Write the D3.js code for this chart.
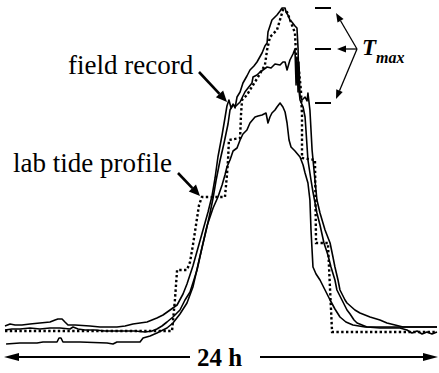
<!DOCTYPE html>
<html>
<head>
<meta charset="utf-8">
<script src="https://cdn.jsdelivr.net/npm/d3@7"></script>
<style>
  body { margin: 0; background: #fff; }
  svg { display: block; }
</style>
</head>
<body>
<div id="chart"></div>
<script>
// time in hours, temperature (arbitrary deg C)
const fieldA = [
  [0,11.9],[0.28,12.1],[0.56,12.0],[0.94,12.0],[1.39,12.1],[1.94,12.2],[2.5,12.3],[2.78,12.5],
  [2.94,12.6],[3.17,12.6],[3.33,12.3],[3.5,12.0],[3.89,12.0],[4.72,11.9],[5.28,11.8],[6.22,11.8],
  [6.67,11.9],[7.11,12.1],[7.5,12.2],[7.89,12.3],[8.44,12.7],[8.78,13.0],[9.17,13.5],[9.56,14.0],
  [9.89,15.1],[10.11,16.1],[10.44,17.9],[10.72,19.7],[11.0,21.5],[11.28,23.3],[11.5,24.9],
  [11.67,26.7],[11.83,28.8],[12.06,31.0],[12.22,32.7],[12.33,33.9],[12.44,34.5],[12.56,33.7],
  [12.67,34.1],[12.78,33.7],[12.89,34.8],[13.06,35.3],[13.22,36.2],[13.44,36.9],[13.61,37.5],
  [13.83,37.9],[14.0,38.3],[14.28,39.2],[14.44,39.9],[14.56,40.2],[14.61,41.3],[14.72,41.9],
  [14.83,42.5],[15.11,43.0],[15.28,43.4],[15.39,43.7],[15.56,43.7],[15.61,43.3],[15.72,43.0],
  [15.83,42.5],[15.94,42.3],[16.11,41.9],[16.22,41.7],[16.28,39.7],[16.33,35.5],[16.39,34.5],
  [16.56,33.8],[16.67,32.8],[16.72,31.5],[16.83,28.5],[17.0,26.5],[17.11,25.3],[17.33,23.2],
  [17.5,22.0],[17.72,20.2],[17.94,19.0],[18.11,17.8],[18.33,16.5],[18.44,15.5],[18.72,14.5],
  [19.0,13.5],[19.17,13.1],[19.39,12.5],[19.56,12.2],[20.11,11.8],[20.83,11.7],[21.94,11.7],
  [22.33,11.5],[22.61,11.2],[22.89,11.4],[23.17,11.1],[23.44,11.3],[23.72,11.1],[24,11.3]
];
const fieldB = [
  [0,11.5],[0.39,11.6],[0.83,11.6],[1.39,11.7],[1.94,11.6],[2.5,11.7],[3.06,11.7],[3.61,11.6],
  [3.78,11.8],[4.06,11.6],[4.44,11.5],[5.0,11.5],[5.56,11.4],[6.39,11.4],[7.22,11.4],[7.78,11.3],
  [8.17,11.4],[8.44,11.6],[8.72,11.9],[9.0,12.3],[9.33,12.8],[9.72,13.5],[10.0,14.5],[10.28,15.3],
  [10.67,17.5],[10.94,19.7],[11.22,21.8],[11.39,23.2],[11.56,24.7],[11.72,26.4],[11.94,28.4],
  [12.17,30.2],[12.39,32.1],[12.5,33.5],[12.67,34.0],[12.83,33.9],[13.06,34.3],[13.22,34.9],
  [13.33,35.3],[13.5,35.7],[13.72,36.2],[13.78,36.8],[14.0,37.0],[14.17,37.3],[14.33,37.5],
  [14.56,37.8],[14.78,37.7],[15.0,38.1],[15.28,38.0],[15.44,38.3],[15.56,38.3],[15.67,37.5],
  [15.83,38.5],[16.0,39.1],[16.11,39.6],[16.17,36.0],[16.22,38.8],[16.28,35.3],[16.33,38.3],
  [16.39,34.9],[16.5,34.5],[16.67,34.8],[16.78,34.4],[16.83,35.2],[16.94,33.5],[17.06,29.5],
  [17.22,26.5],[17.33,24.5],[17.5,23.2],[17.78,21.5],[18.06,20.2],[18.22,18.8],[18.33,17.8],
  [18.5,16.5],[18.61,15.5],[18.89,14.5],[19.0,14.2],[19.44,13.5],[19.72,13.2],[20.28,12.8],
  [20.83,12.5],[21.22,12.2],[21.67,12.0],[22.11,11.8],[23.06,11.8],[24,11.8]
];
const fieldC = [
  [0.06,10.1],[0.83,10.2],[1.78,10.2],[2.11,10.3],[2.89,10.3],[3.0,10.7],[3.11,10.7],[3.22,10.3],
  [4.17,10.3],[5.67,10.2],[6.0,10.1],[6.22,10.3],[7.5,10.3],[7.67,10.7],[8.06,10.9],[8.44,11.2],
  [9.0,11.7],[9.33,12.2],[9.72,13.1],[10.11,14.2],[10.44,15.8],[10.72,18.0],[10.94,19.7],
  [11.22,21.9],[11.56,23.7],[11.83,24.8],[12.06,26.0],[12.22,27.0],[12.33,27.8],[12.5,28.5],
  [12.67,29.4],[12.89,29.7],[13.06,30.5],[13.22,31.1],[13.44,31.5],[13.61,32.2],[13.89,32.8],
  [14.06,32.9],[14.28,33.0],[14.5,33.2],[14.61,32.2],[14.72,32.8],[14.83,33.2],[15.0,33.5],
  [15.11,33.8],[15.28,34.2],[15.44,33.8],[15.56,33.3],[15.67,32.2],[15.78,30.5],[15.89,29.8],
  [16.11,29.4],[16.39,28.8],[16.56,28.0],[16.67,27.2],[16.83,26.2],[16.94,24.5],[17.0,21.5],
  [17.11,17.8],[17.28,17.1],[17.5,16.5],[17.78,15.5],[18.06,14.5],[18.33,13.6],[18.61,12.8],
  [18.94,12.3],[19.33,12.0],[20.0,11.8],[20.83,11.8],[21.94,11.8],[24,11.8]
];
const labProfile = [
  [0,11.4],[9.28,11.4],[9.44,14.5],[9.56,17.5],[10.11,17.5],[10.28,18.3],[10.44,20.0],[10.61,22.0],
  [10.78,24.0],[10.94,24.8],[12.22,24.8],[12.33,27.0],[12.39,28.5],[12.44,30.5],[13.06,30.7],
  [13.11,33.0],[13.17,34.5],[13.44,35.0],[13.78,36.0],[14.06,36.8],[14.28,37.5],[14.44,38.0],
  [14.56,39.5],[14.72,40.8],[15.11,41.5],[15.44,43.5],[15.67,43.3],[15.94,42.0],[16.11,41.2],
  [16.17,39.0],[16.33,37.5],[16.44,35.5],[16.5,33.0],[16.5,28.7],[17.22,28.5],[17.28,20.2],
  [17.94,20.2],[18.06,15.5],[18.17,11.3],[24,11.3]
];

const width = 439;
const height = 373;

const x = d3.scaleLinear().domain([0, 24]).range([5, 437]);
const y = d3.scaleLinear().domain([10, 43.5]).range([345, 10]);

const svg = d3.select("#chart")
    .append("svg")
    .attr("width", width)
    .attr("height", height);

const line = d3.line()
    .x(function (d) { return x(d[0]); })
    .y(function (d) { return y(d[1]); });

// field records
[fieldA, fieldB, fieldC].forEach(function (s) {
    svg.append("path")
        .datum(s)
        .attr("d", line)
        .attr("fill", "none")
        .attr("stroke", "#000")
        .attr("stroke-width", 1.6)
        .attr("stroke-linejoin", "round");
});

// lab tide profile
svg.append("path")
    .datum(labProfile)
    .attr("d", line)
    .attr("fill", "none")
    .attr("stroke", "#000")
    .attr("stroke-width", 2.4)
    .attr("stroke-dasharray", "2.4,2.4");

function arrow(x1, y1, x2, y2, w, len, half) {
    const a = Math.atan2(y2 - y1, x2 - x1);
    const bx = x2 - len * Math.cos(a), by = y2 - len * Math.sin(a);
    svg.append("line")
        .attr("x1", x1).attr("y1", y1)
        .attr("x2", bx).attr("y2", by)
        .attr("stroke", "#000")
        .attr("stroke-width", w);
    const px = -Math.sin(a) * half, py = Math.cos(a) * half;
    svg.append("polygon")
        .attr("points", [[x2, y2], [bx + px, by + py], [bx - px, by - py]].join(" "))
        .attr("fill", "#000");
}

// labels
svg.append("text")
    .attr("x", 68).attr("y", 74)
    .style("font-family", "'Liberation Serif', 'Times New Roman', serif")
    .style("font-size", "27px")
    .text("field record");
arrow(199, 72, 227, 102, 2.6, 11, 5);

svg.append("text")
    .attr("x", 13).attr("y", 172)
    .style("font-family", "'Liberation Serif', 'Times New Roman', serif")
    .style("font-size", "27px")
    .text("lab tide profile");
arrow(178, 173, 200, 196, 2.6, 11, 5);

// Tmax dashes at each record's peak
const peaks = [fieldA, fieldB, fieldC].map(function (s) {
    return d3.max(s, function (d) { return d[1]; });
});
svg.selectAll("line.tmax")
    .data(peaks)
    .enter()
    .append("line")
    .attr("class", "tmax")
    .attr("x1", 315).attr("x2", 331)
    .attr("y1", function (d) { return y(d); })
    .attr("y2", function (d) { return y(d); })
    .attr("stroke", "#000")
    .attr("stroke-width", 2);

peaks.forEach(function (p, i) {
    const ty = y(p) + (i === 0 ? 5 : i === 2 ? -4 : 0);
    arrow(357, 49, i === 1 ? 337 : 336, ty, 1.3, 9, 3.5);
});

const tm = svg.append("text")
    .attr("x", 362).attr("y", 55)
    .style("font-family", "'Liberation Serif', 'Times New Roman', serif")
    .style("font-weight", "bold")
    .style("font-style", "italic")
    .style("font-size", "23px");
tm.append("tspan").text("T");
tm.append("tspan")
    .attr("dy", 8)
    .style("font-size", "16px")
    .text("max");

// 24 h span
arrow(190, 357, 4, 357, 2, 15, 4);
arrow(260, 357, 438, 357, 2, 15, 4);
svg.append("text")
    .attr("x", 197).attr("y", 366)
    .style("font-family", "'Liberation Serif', 'Times New Roman', serif")
    .style("font-weight", "bold")
    .style("font-size", "25px")
    .text("24 h");
</script>
</body>
</html>
